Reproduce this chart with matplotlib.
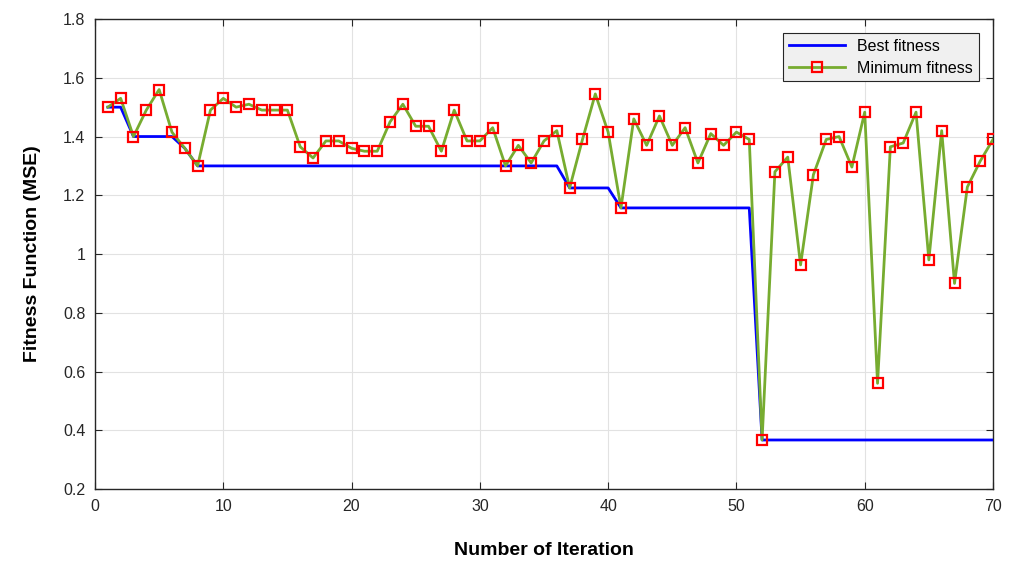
import matplotlib
matplotlib.use("Agg")
import matplotlib.pyplot as plt

iteracoes = list(range(1, 71))

min_fitness = [1.50, 1.53, 1.40, 1.49, 1.56, 1.415, 1.36, 1.30, 1.49, 1.53,
               1.50, 1.51, 1.49, 1.49, 1.49, 1.365, 1.327, 1.385, 1.385, 1.36,
               1.35, 1.35, 1.45, 1.51, 1.435, 1.435, 1.35, 1.49, 1.385, 1.385,
               1.43, 1.30, 1.37, 1.31, 1.385, 1.42, 1.225, 1.39, 1.545, 1.415,
               1.157, 1.46, 1.37, 1.47, 1.37, 1.43, 1.31, 1.41, 1.37, 1.415,
               1.39, 0.367, 1.28, 1.33, 0.963, 1.27, 1.39, 1.40, 1.296, 1.483,
               0.56, 1.365, 1.378, 1.483, 0.98, 1.42, 0.90, 1.228, 1.316, 1.39]

best_fitness = [1.50, 1.50, 1.40, 1.40, 1.40, 1.40, 1.36, 1.30, 1.30, 1.30,
                1.30, 1.30, 1.30, 1.30, 1.30, 1.30, 1.30, 1.30, 1.30, 1.30,
                1.30, 1.30, 1.30, 1.30, 1.30, 1.30, 1.30, 1.30, 1.30, 1.30,
                1.30, 1.30, 1.30, 1.30, 1.30, 1.30, 1.225, 1.225, 1.225, 1.225,
                1.157, 1.157, 1.157, 1.157, 1.157, 1.157, 1.157, 1.157, 1.157, 1.157,
                1.157, 0.367, 0.367, 0.367, 0.367, 0.367, 0.367, 0.367, 0.367, 0.367,
                0.367, 0.367, 0.367, 0.367, 0.367, 0.367, 0.367, 0.367, 0.367, 0.367]

plt.rcParams['font.family'] = ['Liberation Sans', 'DejaVu Sans']

fig = plt.figure(figsize=(10.17, 5.68), dpi=100)
ax = fig.add_axes([0.0934, 0.139, 0.883, 0.8275])

ax.plot(iteracoes, best_fitness, color='#0000ff', lw=2, label='Best fitness', zorder=3)
ax.plot(iteracoes, min_fitness, color='#77ac30', lw=2, marker='s', ms=6.5,
        mec='#ff0000', mew=1.6, mfc='none', label='Minimum fitness', zorder=4)

ax.set_xlim(0, 70)
ax.set_ylim(0.2, 1.8)
ax.set_xticks(range(0, 71, 10))
ax.set_yticks([0.2, 0.4, 0.6, 0.8, 1.0, 1.2, 1.4, 1.6, 1.8])
ax.set_yticklabels(['0.2', '0.4', '0.6', '0.8', '1', '1.2', '1.4', '1.6', '1.8'])
ax.tick_params(direction='in', length=5, labelsize=11.5, colors='#262626',
               top=True, right=True, pad=7)
ax.grid(True, color='#e2e2e2', lw=0.8)
for s in ax.spines.values():
    s.set_color('#262626')
    s.set_linewidth(1.0)

ax.set_xlabel('Number of Iteration', fontsize=14, fontweight='bold', labelpad=20)
ax.set_ylabel('Fitness Function (MSE)', fontsize=14, fontweight='bold', labelpad=16)

leg = ax.legend(loc='upper right', bbox_to_anchor=(0.984, 0.97), fontsize=11.5,
                fancybox=False, edgecolor='#262626', facecolor='#f0f0f0',
                framealpha=1, handlelength=3.5, borderpad=0.35, labelspacing=0.45,
                borderaxespad=0)
leg.get_frame().set_linewidth(0.8)

plt.savefig('out.png', dpi=100)
plt.close()
